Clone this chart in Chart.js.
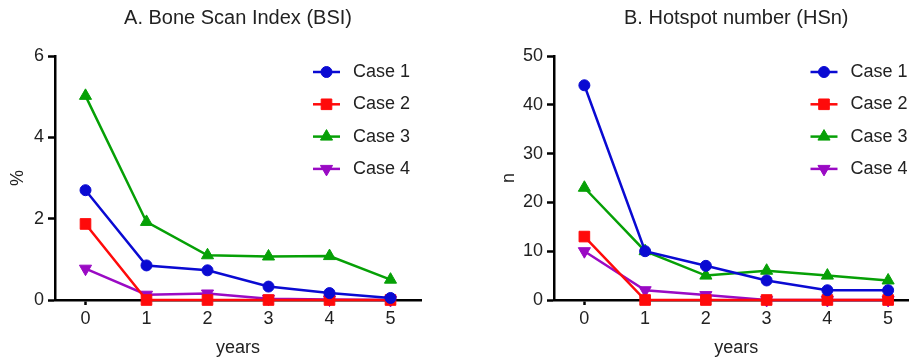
<!DOCTYPE html>
<html>
<head>
<meta charset="utf-8">
<script src="https://cdn.jsdelivr.net/npm/chart.js@4/dist/chart.umd.min.js"></script>
<style>
  html, body { margin: 0; padding: 0; overflow: hidden; background: #fff; width: 909px; height: 361px; }
  #wrap { position: relative; width: 909px; height: 361px; overflow: hidden; }
  #cA { position: absolute; left: 0; top: 0; }
  #cB { position: absolute; left: 450px; top: 0; }
</style>
</head>
<body>
<div id="wrap">
  <canvas id="cA" width="450" height="361"></canvas>
  <canvas id="cB" width="477" height="361"></canvas>
</div>
<script>
// ---- data ----
const years = [0, 1, 2, 3, 4, 5];
const xTicks = [0, 1, 2, 3, 4, 5];
const caseNames = ['Case 1', 'Case 2', 'Case 3', 'Case 4'];

const bsiCase1 = [2.70, 0.85, 0.73, 0.33, 0.17, 0.05];
const bsiCase2 = [1.87, 0, 0, 0, 0, 0];
const bsiCase3 = [5.02, 1.92, 1.10, 1.07, 1.08, 0.50];
const bsiCase4 = [0.77, 0.13, 0.16, 0.03, 0.01, 0];
const bsiTicks = [0, 2, 4, 6];

const hsnCase1 = [44, 10, 7, 4, 2, 2];
const hsnCase2 = [13, 0, 0, 0, 0, 0];
const hsnCase3 = [23, 10, 5, 6, 5, 4];
const hsnCase4 = [10, 2, 1, 0, 0, 0];
const hsnTicks = [0, 10, 20, 30, 40, 50];

// ---- styles ----
const FONT = 'Liberation Sans, Arial, Helvetica, sans-serif';
const TXT = '#222';
const styles = [
  { color: '#0a0ad2', pointStyle: 'circle', radius: 5.5, rotation: 0 },
  { color: '#ff0a0a', pointStyle: 'rect', radius: 7.5, rotation: 0 },
  { color: '#06a006', pointStyle: 'triangle', radius: 7, rotation: 0 },
  { color: '#9a0ac4', pointStyle: 'triangle', radius: 7, rotation: 180 }
];

function makeDatasets(seriesList) {
  return seriesList.map((vals, i) => ({
    label: caseNames[i],
    data: years.map((x, k) => ({ x: x, y: vals[k] })),
    borderColor: styles[i].color,
    backgroundColor: styles[i].color,
    pointBackgroundColor: styles[i].color,
    pointBorderColor: styles[i].color,
    pointBorderWidth: 1,
    pointStyle: styles[i].pointStyle,
    pointRadius: styles[i].radius,
    pointRotation: styles[i].rotation,
    borderWidth: 2.5,
    tension: 0,
    clip: false
  }));
}

function drawMarker(ctx, st, x, y) {
  if (Chart.helpers && Chart.helpers.drawPoint) {
    ctx.save();
    ctx.fillStyle = st.color;
    ctx.strokeStyle = st.color;
    ctx.lineWidth = 1;
    Chart.helpers.drawPoint(ctx, { pointStyle: st.pointStyle, radius: st.radius, rotation: st.rotation, borderWidth: 1 }, x, y);
    ctx.restore();
  }
}

const insideLegend = {
  id: 'insideLegend',
  afterDatasetsDraw(chart) {
    const { ctx, chartArea } = chart;
    const x1 = chartArea.right - 108;
    const x2 = x1 + 27;
    const tx = x1 + 40;
    chart.data.datasets.forEach((ds, i) => {
      const y = chartArea.top + 16 + i * 32.3;
      const st = styles[i];
      ctx.save();
      ctx.strokeStyle = st.color;
      ctx.lineWidth = 2.5;
      ctx.beginPath();
      ctx.moveTo(x1, y);
      ctx.lineTo(x2, y);
      ctx.stroke();
      ctx.restore();
      drawMarker(ctx, st, (x1 + x2) / 2, y);
      ctx.save();
      ctx.fillStyle = TXT;
      ctx.font = '18px ' + FONT;
      ctx.textBaseline = 'middle';
      ctx.textAlign = 'left';
      ctx.fillText(ds.label, tx, y);
      ctx.restore();
    });
  }
};

function buildChart(canvasId, opts) {
  const tickFont = { family: FONT, size: 18 };
  return new Chart(document.getElementById(canvasId), {
    type: 'line',
    data: { datasets: makeDatasets(opts.series) },
    plugins: [insideLegend],
    options: {
      responsive: false,
      animation: false,
      devicePixelRatio: 1,
      layout: { padding: opts.padding },
      plugins: {
        legend: { display: false },
        tooltip: { enabled: false },
        title: {
          display: true,
          text: opts.title,
          fullSize: false,
          color: TXT,
          font: { family: FONT, size: 20, weight: 'normal' },
          padding: { top: 6, bottom: 26 }
        }
      },
      scales: {
        x: {
          type: 'linear',
          min: -0.5,
          max: 5.5,
          afterBuildTicks(s) { s.ticks = xTicks.map(v => ({ value: v })); },
          afterFit(s) { s.height = 61; },
          ticks: { font: tickFont, color: TXT, padding: 3, autoSkip: false, maxRotation: 0 },
          grid: { display: true, drawOnChartArea: false, drawTicks: true, tickLength: 5, tickColor: '#000', tickWidth: 2.5 },
          border: { display: true, color: '#000', width: 2.5 },
          title: { display: true, text: 'years', color: TXT, font: { family: FONT, size: 18 }, padding: { top: 0, bottom: 2 } }
        },
        y: {
          type: 'linear',
          min: opts.yTicks[0],
          max: opts.yTicks[opts.yTicks.length - 1],
          afterBuildTicks(s) { s.ticks = opts.yTicks.map(v => ({ value: v })); },
          afterFit(s) { s.width = opts.yWidth; },
          ticks: { font: tickFont, color: TXT, padding: 4 },
          grid: { display: true, drawOnChartArea: false, drawTicks: true, tickLength: 7, tickColor: '#000', tickWidth: 2.5 },
          border: { display: true, color: '#000', width: 2.5 },
          title: { display: true, text: opts.yTitle, color: TXT, font: { family: FONT, size: 18 }, padding: { top: opts.yTitlePad, bottom: 0 } }
        }
      }
    }
  });
}

buildChart('cA', {
  series: [bsiCase1, bsiCase2, bsiCase3, bsiCase4],
  title: 'A. Bone Scan Index (BSI)',
  yTicks: bsiTicks,
  yTitle: '%',
  yWidth: 55,
  yTitlePad: 7,
  padding: { left: 0, right: 29, top: 0, bottom: 0 }
});

buildChart('cB', {
  series: [hsnCase1, hsnCase2, hsnCase3, hsnCase4],
  title: 'B. Hotspot number (HSn)',
  yTicks: hsnTicks,
  yTitle: 'n',
  yWidth: 104,
  yTitlePad: 48,
  padding: { left: 0, right: 0, top: 0, bottom: 0 }
});
</script>
</body>
</html>
